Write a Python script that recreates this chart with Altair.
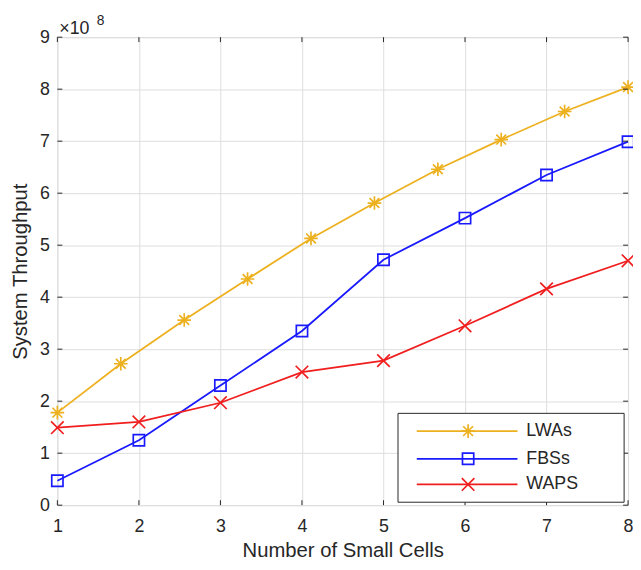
import altair as alt
import pandas as pd

# ---- data ----
series_names = ["LWAs", "FBSs", "WAPS"]
series_colors = ["#EDB120", "#1a1aff", "#f01e1e"]

lwa_x = [1, 1.778, 2.556, 3.333, 4.111, 4.889, 5.667, 6.444, 7.222, 8]
lwa_y = [1.78e8, 2.72e8, 3.56e8, 4.35e8, 5.13e8, 5.81e8, 6.46e8, 7.03e8, 7.57e8, 8.04e8]

fbs_x = [1, 2, 3, 4, 5, 6, 7, 8]
fbs_y = [0.47e8, 1.25e8, 2.30e8, 3.35e8, 4.72e8, 5.52e8, 6.35e8, 6.99e8]

waps_x = [1, 2, 3, 4, 5, 6, 7, 8]
waps_y = [1.49e8, 1.60e8, 1.97e8, 2.56e8, 2.78e8, 3.45e8, 4.16e8, 4.70e8]

x_ticks = [1, 2, 3, 4, 5, 6, 7, 8]
y_ticks = [0, 1e8, 2e8, 3e8, 4e8, 5e8, 6e8, 7e8, 8e8, 9e8]

# ---- styling ----
FONT = "Liberation Sans"
TXT = "#262626"
W, H = 578, 474

asterisk = "M-1,0H1M0,-1V1M-0.72,-0.72L0.72,0.72M-0.72,0.72L0.72,-0.72"
square = "M-1,-1H1V1H-1Z"
xcross = "M-0.9,-0.9L0.9,0.9M-0.9,0.9L0.9,-0.9"
shapes = [asterisk, square, xcross]
sizes = [190, 130, 200]

rows = []
for name, xs, ys in [("LWAs", lwa_x, lwa_y), ("FBSs", fbs_x, fbs_y), ("WAPS", waps_x, waps_y)]:
    for a, b in zip(xs, ys):
        rows.append({"series": name, "x": a, "y": b})
df = pd.DataFrame(rows)

xscale = alt.Scale(domain=[1, 8], nice=False, zero=False)
yscale = alt.Scale(domain=[0, 9e8], nice=False)
cscale = alt.Scale(domain=series_names, range=series_colors)

xaxis = alt.Axis(values=x_ticks, format="d", grid=True, ticks=False, domain=False,
                 labelFont=FONT, labelFontSize=18, labelColor=TXT, labelPadding=13,
                 labelFlush=False, title="Number of Small Cells", titleFont=FONT,
                 titleFontSize=20.5, titleFontWeight="normal", titleColor=TXT, titlePadding=5)
yaxis = alt.Axis(values=y_ticks, labelExpr="format(datum.value/1e8,'d')", grid=True,
                 ticks=False, domain=False, labelFont=FONT, labelFontSize=18,
                 labelColor=TXT, labelPadding=8, title="System Throughput",
                 titleFont=FONT, titleFontSize=20.5, titleFontWeight="normal",
                 titleColor=TXT, titlePadding=9)

X = alt.X("x:Q", scale=xscale, axis=xaxis, title="Number of Small Cells")
Y = alt.Y("y:Q", scale=yscale, axis=yaxis, title="System Throughput")

lines = alt.Chart(df).mark_line(strokeWidth=1.8).encode(
    x=X, y=Y,
    color=alt.Color("series:N", scale=cscale, legend=None),
    detail="series:N",
)

layers = [lines]
for name, col, shp, sz in zip(series_names, series_colors, shapes, sizes):
    layers.append(
        alt.Chart(df[df.series == name]).mark_point(
            filled=False, strokeWidth=1.7, size=sz, opacity=1
        ).encode(x=X, y=Y, shape=alt.value(shp), color=alt.value(col))
    )

# inward ticks on all four sides (MATLAB box style)
xt = pd.DataFrame({"x": x_ticks})
yt = pd.DataFrame({"y": y_ticks})
layers.append(alt.Chart(xt).mark_rule(color=TXT, strokeWidth=1).encode(
    x=X, y=alt.value(0), y2=alt.value(5)))
layers.append(alt.Chart(xt).mark_rule(color=TXT, strokeWidth=1).encode(
    x=X, y=alt.value(H - 5), y2=alt.value(H)))
layers.append(alt.Chart(yt).mark_rule(color=TXT, strokeWidth=1).encode(
    y=Y, x=alt.value(0), x2=alt.value(5)))
layers.append(alt.Chart(yt).mark_rule(color=TXT, strokeWidth=1).encode(
    y=Y, x=alt.value(W - 5), x2=alt.value(W)))

# exponent label
one = pd.DataFrame({"k": [0]})
layers.append(alt.Chart(one).mark_text(align="left", baseline="alphabetic", font=FONT,
                                        fontSize=18, color=TXT).encode(
    x=alt.value(2), y=alt.value(-3), text=alt.value("×10")))
layers.append(alt.Chart(one).mark_text(align="left", baseline="alphabetic", font=FONT,
                                        fontSize=14, color=TXT).encode(
    x=alt.value(40), y=alt.value(-12), text=alt.value("8")))

# legend box
layers.append(alt.Chart(one).mark_rect(fill="white", stroke=TXT, strokeWidth=1).encode(
    x=alt.value(345), x2=alt.value(574), y=alt.value(381), y2=alt.value(471)))
leg_y = [399, 427, 453]
for name, col, shp, sz, ly in zip(series_names, series_colors, shapes, sizes, leg_y):
    layers.append(alt.Chart(one).mark_rule(color=col, strokeWidth=1.8).encode(
        x=alt.value(364), x2=alt.value(466), y=alt.value(ly)))
    layers.append(alt.Chart(one).mark_point(filled=False, strokeWidth=1.7, size=sz,
                                            opacity=1).encode(
        x=alt.value(416), y=alt.value(ly), shape=alt.value(shp), color=alt.value(col)))
    layers.append(alt.Chart(one).mark_text(align="left", baseline="middle", font=FONT,
                                            fontSize=18, color=TXT).encode(
        x=alt.value(475), y=alt.value(ly), text=alt.value(name)))

chart = alt.layer(*layers).properties(
    width=W, height=H,
    autosize=alt.AutoSizeParams(type="none"),
    padding={"left": 50, "top": 26, "right": 5, "bottom": 54},
).configure_view(stroke=TXT, strokeWidth=1).configure_axis(
    gridColor="#dcdcdc", gridWidth=1, gridOpacity=1
).configure(background="white")

chart.save("out.html", embed_options={"renderer": "svg", "actions": False})
